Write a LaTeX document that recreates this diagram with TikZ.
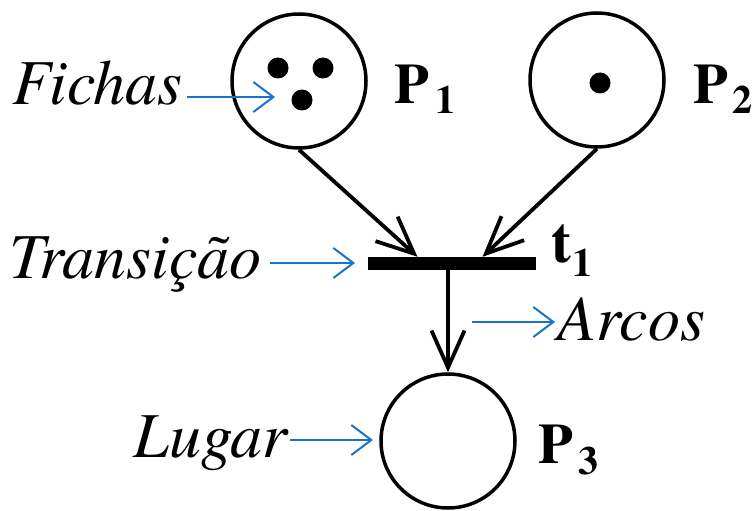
\documentclass[tikz,border=0pt]{standalone}
\usepackage{fontspec}
\setmainfont{TeX Gyre Termes}
\usetikzlibrary{arrows.meta}
\definecolor{lblue}{RGB}{25,115,205}
\newcommand\subnum[3]{\kern#1pt\raisebox{-#2pt}{\fontsize{40}{40}\selectfont #3}}
\begin{document}
\begin{tikzpicture}[x=1pt,y=-1pt,
  place/.style={circle,draw,line width=3.5pt,minimum size=134pt,inner sep=0pt},
  token/.style={circle,fill,minimum size=21pt,inner sep=0pt},
  barbox/.style={fill,minimum width=168pt,minimum height=13pt,inner sep=0pt},
  arc/.style={line width=3.8pt,-{Straight Barb[length=37pt,width=33pt,line width=3.8pt]}},
  callout/.style={lblue,line width=2pt,-{Straight Barb[length=20pt,width=30pt,line width=2pt]}},
  lbl/.style={font=\fontsize{64}{64}\selectfont\itshape,inner sep=0pt},
  plbl/.style={font=\fontsize{57}{57}\selectfont\bfseries,inner sep=0pt}]
\useasboundingbox (0,0) rectangle (753,511);
% places
\node[place] (p1) at (299,81) {};
\node[place] (p2) at (597,80) {};
\node[place] (p3) at (448,441) {};
% tokens
\node[token] (k1) at (278,68) {};
\node[token] (k2) at (323,68) {};
\node[token] (k3) at (302,100) {};
\node[token] (k4) at (600,83) {};
% transition
\node[barbox] (t1) at (451.5,263.5) {};
\coordinate (in1) at ([xshift=-34pt]t1.north);
\coordinate (in2) at ([xshift=31pt]t1.north);
% arcs
\draw[arc] (p1.south) -- (in1);
\draw[arc] (p2.south) -- (in2);
\draw[arc] (t1.south -| p3.north) -- (p3.north);
% bold labels
\node[plbl,anchor=base west] (p1l) at (394,103) {P\subnum{6}{10}{1}};
\node[plbl,anchor=base west] (p2l) at (693,103) {P\subnum{4}{10}{2}};
\node[plbl,anchor=base west] (p3l) at (538,463) {P\subnum{5}{11}{3}};
\node[anchor=base west,inner sep=0pt,font=\fontsize{60}{60}\selectfont\bfseries] (t1l) at (551,262) {t\subnum{1}{14}{1}};
% italic labels with callouts
\node[lbl,anchor=base east] (fichas) at (183,105) {Fichas};
\coordinate (fichtip) at (275,97);
\draw[callout] ([shift={(4,-8)}]fichas.base east) -- (fichtip);
\node[lbl,anchor=base east] (trans) at (262,278) {Transição};
\coordinate (transtip) at (355,263);
\draw[callout] ([shift={(8,-15)}]trans.base east) -- (transtip);
\node[lbl,anchor=base west] (arcos) at (557,340) {Arcos};
\coordinate (arcstart) at (472,322);
\draw[callout] (arcstart) -- ([shift={(-2,-18)}]arcos.base west);
\node[lbl,anchor=base east] (lugar) at (288,457) {Lugar};
\coordinate (lugtip) at (373,440);
\draw[callout] ([shift={(2,-17)}]lugar.base east) -- (lugtip);
\end{tikzpicture}
\end{document}
